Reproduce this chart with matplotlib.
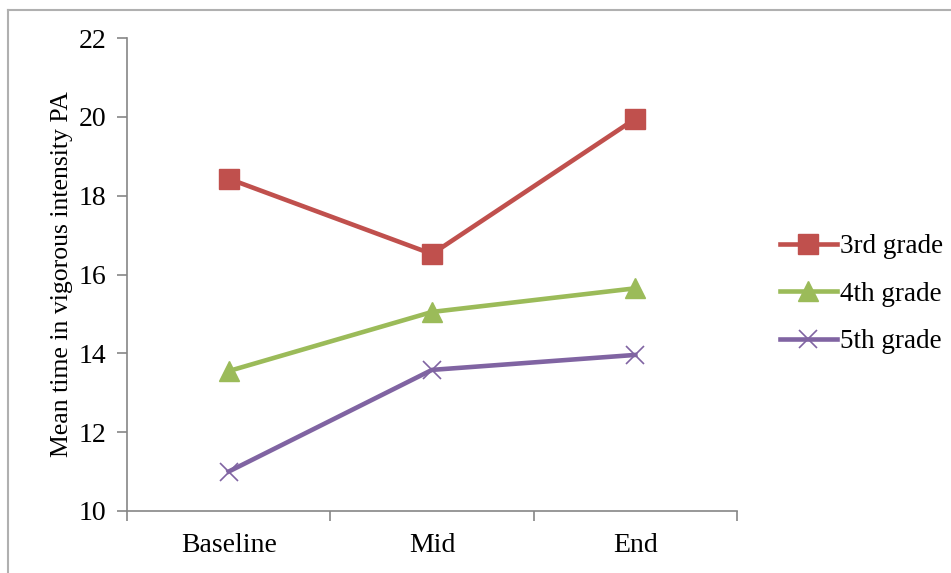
import matplotlib
matplotlib.use('Agg')
import matplotlib.pyplot as plt
from matplotlib.lines import Line2D

plt.rcParams['font.family'] = ['Liberation Serif', 'DejaVu Serif']

PHASES = ['Baseline', 'Mid', 'End']
GRADE3 = [18.43, 16.52, 19.95]
GRADE4 = [13.55, 15.05, 15.65]
GRADE5 = [11.0, 13.58, 13.96]

AXIS_GREY = '#868686'


def plot_vigorous_pa():
    fig = plt.figure(figsize=(9.51, 5.73), dpi=100)
    # chart area border
    fig.add_artist(Line2D([8 / 951, 8 / 951], [0, 1 - 10 / 573], color='#b0b0b0', lw=1.5))
    fig.add_artist(Line2D([8 / 951, 1], [1 - 10 / 573, 1 - 10 / 573], color='#b0b0b0', lw=1.5))

    ax = fig.add_axes([127 / 951, 1 - 511 / 573, 610 / 951, 473 / 573])
    x = range(len(PHASES))
    ax.plot(x, GRADE3, color='#C0504D', lw=3.3, marker='s', ms=14, label='3rd grade')
    ax.plot(x, GRADE4, color='#9BBB59', lw=3.3, marker='^', ms=14, label='4th grade')
    ax.plot(x, GRADE5, color='#8064A2', lw=3.3, marker='x', ms=13, mew=1.2, label='5th grade')

    ax.set_xlim(-0.5, 2.5)
    ax.set_ylim(10, 22)
    ax.set_yticks(range(10, 23, 2))
    ax.set_xticks(list(x))
    ax.set_xticklabels(PHASES)
    ax.set_xticks([-0.5, 0.5, 1.5, 2.5], minor=True)
    ax.tick_params(axis='x', which='major', length=0, pad=16, labelsize=20)
    ax.tick_params(axis='x', which='minor', length=7, width=1.2, color=AXIS_GREY)
    ax.tick_params(axis='y', length=7, width=1.2, color=AXIS_GREY, labelsize=20, pad=8)

    for side in ['top', 'right']:
        ax.spines[side].set_visible(False)
    for side in ['left', 'bottom']:
        ax.spines[side].set_color(AXIS_GREY)
        ax.spines[side].set_linewidth(1.2)

    ax.set_ylabel('Mean time in vigorous intensity PA', fontsize=18.5, labelpad=4)
    ax.legend(loc='center left', bbox_to_anchor=(1.03, 0.458), frameon=False,
              fontsize=19.5, handlelength=2.1, handletextpad=0.12, labelspacing=0.83)
    fig.savefig('out.png', dpi=100)


if __name__ == '__main__':
    plot_vigorous_pa()
